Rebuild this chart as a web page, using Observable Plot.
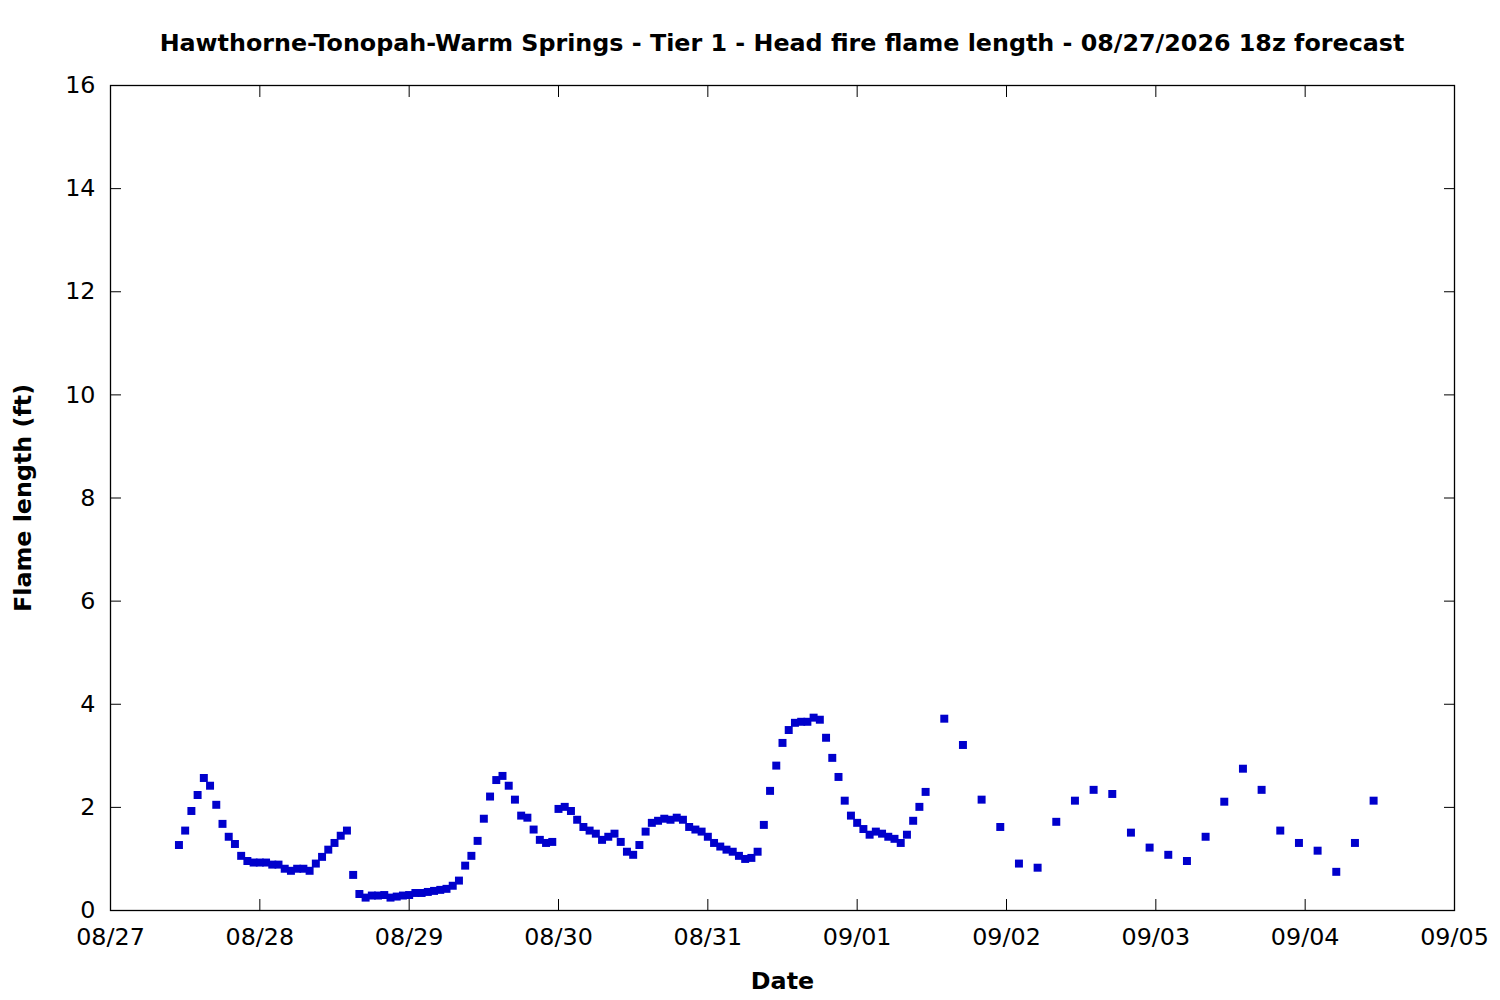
<!DOCTYPE html>
<html>
<head>
<meta charset="utf-8">
<script src="https://cdn.jsdelivr.net/npm/d3@7"></script>
<script src="https://cdn.jsdelivr.net/npm/@observablehq/plot@0.6"></script>
<style>
  html, body { margin: 0; padding: 0; background: #fff; }
  #title {
    box-sizing: border-box;
    height: 60px;
    padding: 30px 46px 0 110px;
    line-height: 26px;
    text-align: center;
    font-family: "DejaVu Sans", sans-serif;
    font-weight: bold;
    font-size: 23.8px;
    color: #000;
    white-space: nowrap;
  }
  #chart svg g[aria-label="x-axis label"] text,
  #chart svg g[aria-label="y-axis label"] text { font-weight: bold; }
</style>
</head>
<body>
<div id="title"></div>
<div id="chart"></div>
<script>
const titleText = "Hawthorne-Tonopah-Warm Springs - Tier 1 - Head fire flame length - 08/27/2026 18z forecast";
const xLabel = "Date";
const yLabel = "Flame length (ft)";

// Hourly values, starting 08/27 11:00 (one per hour through 09/01 11:00)
const hourlyStart = "2026-08-27T11:00:00Z";
const hourlyValues = [
  1.27, 1.55, 1.93, 2.24, 2.57, 2.42, 2.05, 1.68, 1.43, 1.29,
  1.06, 0.96, 0.93, 0.93, 0.93, 0.89, 0.89, 0.81, 0.77, 0.81,
  0.81, 0.77, 0.91, 1.04, 1.18, 1.31, 1.45, 1.55, 0.69, 0.32,
  0.25, 0.29, 0.29, 0.30, 0.25, 0.27, 0.29, 0.30, 0.34, 0.34,
  0.36, 0.38, 0.40, 0.42, 0.48, 0.58, 0.87, 1.06, 1.35, 1.78,
  2.21, 2.53, 2.61, 2.42, 2.15, 1.84, 1.80, 1.57, 1.37, 1.31,
  1.33, 1.97, 2.01, 1.93, 1.76, 1.62, 1.55, 1.49, 1.37, 1.43,
  1.49, 1.33, 1.14, 1.08, 1.27, 1.53, 1.70, 1.74, 1.78, 1.76,
  1.80, 1.76, 1.62, 1.57, 1.53, 1.43, 1.31, 1.24, 1.18, 1.14,
  1.06, 1.00, 1.02, 1.14, 1.66, 2.32, 2.81, 3.25, 3.50, 3.64,
  3.66, 3.66, 3.74, 3.70, 3.35, 2.96, 2.59, 2.13, 1.84, 1.70,
  1.58, 1.47, 1.53, 1.49, 1.43, 1.39, 1.31, 1.47, 1.74, 2.01,
  2.30
];

// Three-hourly values, starting 09/01 14:00
const threeHourlyStart = "2026-09-01T14:00:00Z";
const threeHourlyValues = [
  3.72, 3.21, 2.15, 1.62, 0.91, 0.83, 1.72, 2.13, 2.34, 2.26,
  1.51, 1.22, 1.08, 0.96, 1.43, 2.11, 2.75, 2.34, 1.55, 1.31,
  1.16, 0.75, 1.31, 2.13
];

const xTickDates = ["2026-08-27", "2026-08-28", "2026-08-29", "2026-08-30", "2026-08-31",
                    "2026-09-01", "2026-09-02", "2026-09-03", "2026-09-04", "2026-09-05"];
const yTicks = [0, 2, 4, 6, 8, 10, 12, 14, 16];

const parse = s => new Date(s.length === 10 ? s + "T00:00:00Z" : s);
const h0 = parse(hourlyStart), t0 = parse(threeHourlyStart);
const data = [
  ...hourlyValues.map((v, i) => ({date: d3.utcHour.offset(h0, i), value: v})),
  ...threeHourlyValues.map((v, i) => ({date: d3.utcHour.offset(t0, 3 * i), value: v}))
];
const xTicks = xTickDates.map(parse);
const fmt = d3.utcFormat("%m/%d");

document.getElementById("title").textContent = titleText;

const chart = Plot.plot({
  width: 1500,
  height: 940,
  marginLeft: 110,
  marginRight: 46,
  marginTop: 25,
  marginBottom: 90,
  style: {fontFamily: "DejaVu Sans, sans-serif", fontSize: "23.8px", background: "#fff", color: "#000", overflow: "visible"},
  x: {type: "utc", domain: [xTicks[0], xTicks[xTicks.length - 1]]},
  y: {domain: [0, 16]},
  marks: [
    Plot.axisX({anchor: "bottom", ticks: xTicks, tickFormat: fmt, tickSize: -11, tickPadding: 29,
                label: xLabel, labelAnchor: "center", labelOffset: 78, labelArrow: "none"}),
    Plot.axisX({anchor: "top", ticks: xTicks, tickFormat: () => "", tickSize: -11, label: null}),
    Plot.axisY({anchor: "left", ticks: yTicks, tickSize: -11, tickPadding: 26,
                label: yLabel, labelAnchor: "center", labelOffset: 96, labelArrow: "none"}),
    Plot.axisY({anchor: "right", ticks: yTicks, tickFormat: () => "", tickSize: -11, label: null}),
    Plot.frame({stroke: "#000", strokeWidth: 1.3}),
    Plot.dot(data, {x: "date", y: "value", symbol: "square", r: 4.5, fill: "#0000cc", stroke: "none"})
  ]
});
document.getElementById("chart").append(chart);
</script>
</body>
</html>
